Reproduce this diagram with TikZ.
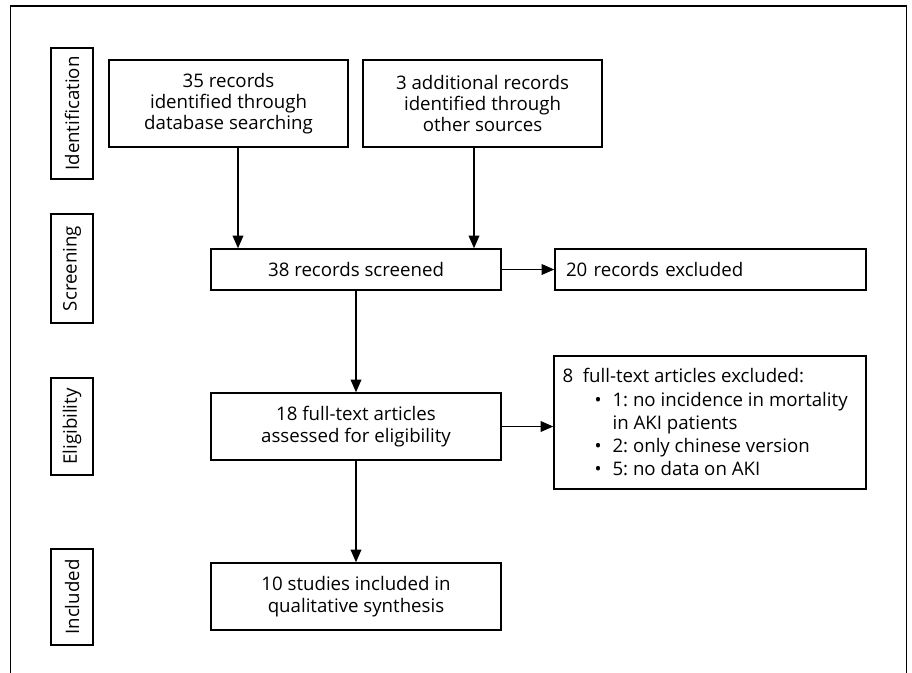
\documentclass[tikz,border=0pt]{standalone}
\usepackage{fontspec}
\setmainfont{Open Sans}
\usetikzlibrary{positioning}
\usetikzlibrary{arrows.meta}

\tikzset{
  stagebox/.style={draw, line width=1.1pt, inner sep=0pt, align=center,
    font=\fontsize{14pt}{16pt}\selectfont},
  sidelabel/.style={draw, line width=1pt, rotate=90, inner sep=0pt,
    font=\fontsize{14pt}{16pt}\selectfont},
  arr/.style={line width=1.1pt, -{Triangle[length=9.5pt,width=8pt]}}
}
\newcommand{\exclitem}[1]{\hspace*{24pt}\makebox[13.5pt][l]{\textbullet}#1}
\frenchspacing

\begin{document}
\begin{tikzpicture}[x=0.75pt,y=-0.75pt]
  \useasboundingbox (0,0) rectangle (912,672);

  % outer frame
  \draw[line width=0.8pt] (10.5,680) -- (10.5,6) -- (906.5,6) -- (906.5,680);

  % stage labels
  \node[sidelabel, minimum width=131*0.75pt, minimum height=42*0.75pt] (ident) at (72,113.5) {Identification};
  \node[sidelabel, minimum width=109*0.75pt, minimum height=42*0.75pt] (screen) at (72,268.5) {Screening};
  \node[sidelabel, minimum width=97*0.75pt, minimum height=42*0.75pt] (elig) at (72,426.5) {Eligibility};
  \node[sidelabel, minimum width=96*0.75pt, minimum height=42*0.75pt] (incl) at (72,597) {Included};

  % boxes
  \node[stagebox, minimum width=239*0.75pt, minimum height=87*0.75pt] (dbrec) at (228.5,103.5)
    {35 records\\identified through\\database searching};
  \node[stagebox, minimum width=239*0.75pt, minimum height=87*0.75pt] (othrec) at (482.5,103.5)
    {3 additional records\\identified through\\other sources};
  \node[stagebox, minimum width=290*0.75pt, minimum height=41*0.75pt] (screened) at (356,269.5)
    {38 records screened};
  \node[stagebox, minimum width=311*0.75pt, minimum height=41*0.75pt, text width=289*0.75pt, align=left] (excl) at (710.5,269.5)
    {20 records excluded};
  \node[stagebox, minimum width=290*0.75pt, minimum height=67*0.75pt] (fulltext) at (356,426.5)
    {18 full-text articles\\assessed for eligibility};
  \node[stagebox, minimum width=312*0.75pt, minimum height=133*0.75pt] (ftexcl) at (710,422.5) {};
  \node[anchor=north west, inner sep=0pt, align=left, font=\fontsize{14pt}{17.4pt}\selectfont]
    (ftexcltxt) at ([xshift=9*0.75pt, yshift=-13*0.75pt]ftexcl.north west)
    {8\ \ full-text articles excluded:\\
     \exclitem{1: no incidence in mortality}\\
     \hspace*{37.5pt}in AKI patients\\
     \exclitem{2: only chinese version}\\
     \exclitem{5: no data on AKI}};
  \node[stagebox, minimum width=290*0.75pt, minimum height=67*0.75pt] (synth) at (356,596.5)
    {10 studies included in\\qualitative synthesis};

  % arrows
  \draw[arr] ([xshift=9.5*0.75pt]dbrec.south) -- ([xshift=9.5*0.75pt]dbrec.south |- screened.north);
  \draw[arr] ([xshift=-8.5*0.75pt]othrec.south) -- ([xshift=-8.5*0.75pt]othrec.south |- screened.north);
  \draw[arr] (screened.east) -- (excl.west);
  \draw[arr] (screened.south) -- (fulltext.north);
  \draw[arr] (fulltext.east) -- (fulltext.east -| ftexcl.west);
  \draw[arr] (fulltext.south) -- (synth.north);

\end{tikzpicture}
\end{document}
